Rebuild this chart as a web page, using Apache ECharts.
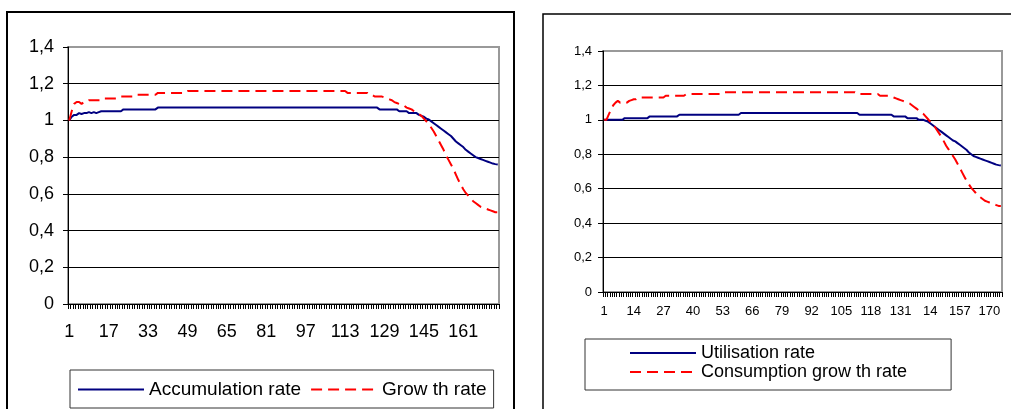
<!DOCTYPE html>
<html>
<head>
<meta charset="utf-8">
<script src="https://cdn.jsdelivr.net/npm/echarts@6/dist/echarts.min.js"></script>
<style>
html,body{margin:0;padding:0;background:#fff;}
#c{width:1011px;height:409px;}
</style>
</head>
<body>
<div id="c"></div>
<script>
// ---- data ----
var categories = [];
for (var k = 1; k <= 175; k++) categories.push(String(k));

var leftTickLabels = ['1','17','33','49','65','81','97','113','129','145','161'];
var rightTickLabels = ['1','14','27','40','53','66','79','92','105','118','131','14','157','170'];
var yTickLabels = ['0','0,2','0,4','0,6','0,8','1','1,2','1,4'];

var accumulationRate = [
1.00,1.02,1.03,1.03,1.04,1.035,1.04,1.04,1.045,1.04,1.045,1.04,1.045,
1.05,1.05,1.05,1.05,1.05,1.05,1.05,1.05,1.05,
1.06,1.06,1.06,1.06,1.06,1.06,1.06,1.06,1.06,1.06,1.06,1.06,1.06,1.06,
1.07,1.07,1.07,1.07,1.07,1.07,1.07,1.07,1.07,1.07,1.07,1.07,1.07,1.07,1.07,1.07,1.07,1.07,1.07,1.07,1.07,1.07,1.07,1.07,1.07,1.07,1.07,1.07,1.07,1.07,
1.07,1.07,1.07,1.07,1.07,1.07,1.07,1.07,1.07,1.07,1.07,1.07,1.07,1.07,1.07,1.07,1.07,1.07,1.07,1.07,1.07,1.07,1.07,1.07,1.07,1.07,1.07,1.07,1.07,1.07,
1.07,1.07,1.07,1.07,1.07,1.07,1.07,1.07,1.07,1.07,1.07,1.07,1.07,1.07,1.07,1.07,1.07,1.07,1.07,1.07,1.07,1.07,1.07,1.07,1.07,1.07,1.07,1.07,1.07,1.07,
1.06,1.06,1.06,1.06,1.06,1.06,1.06,1.06,
1.05,1.05,1.05,1.05,
1.04,1.04,1.04,1.04,
1.03,1.025,1.02,1.01,1.005,0.995,0.985,0.975,0.965,0.955,
0.945,0.935,0.925,0.915,0.90,0.885,0.875,0.865,0.855,0.84,
0.83,0.82,0.81,0.80,0.795,0.79,0.785,0.78,0.775,0.77,
0.765,0.762,0.76
];

var growthRate = [
1.00,1.05,1.09,1.10,1.10,1.09,1.10,1.10,1.11,1.11,1.11,1.11,1.11,1.11,1.12,
1.12,1.12,1.12,1.12,1.12,1.12,
1.13,1.13,1.13,1.13,1.13,1.13,
1.14,1.14,1.14,1.14,1.14,1.14,1.14,1.14,1.14,
1.15,1.15,1.15,1.15,1.15,1.15,1.15,1.15,1.15,1.15,1.15,1.15,
1.16,1.16,1.16,1.16,1.16,1.16,1.16,1.16,1.16,1.16,1.16,1.16,1.16,1.16,1.16,1.16,1.16,1.16,1.16,1.16,
1.16,1.16,1.16,1.16,1.16,1.16,1.16,1.16,1.16,1.16,1.16,1.16,1.16,1.16,1.16,1.16,1.16,1.16,1.16,1.16,
1.16,1.16,1.16,1.16,1.16,1.16,1.16,1.16,1.16,1.16,1.16,1.16,1.16,1.16,1.16,1.16,1.16,1.16,1.16,1.16,
1.16,1.16,1.16,1.16,1.16,
1.15,1.15,1.15,1.15,1.15,1.15,1.15,1.15,1.15,
1.14,1.14,
1.13,1.13,1.13,1.13,
1.125,1.12,1.115,1.11,1.10,1.095,1.09,1.085,1.08,1.07,
1.065,1.06,1.05,1.04,1.035,1.025,1.01,0.995,0.98,0.96,
0.94,0.915,0.89,0.865,0.84,0.81,0.785,0.76,0.735,0.705,
0.675,0.65,0.625,0.605,0.59,0.575,0.56,0.55,0.54,0.53,
0.525,0.52,0.515,0.51,0.505,0.50,0.50
];

var utilisationRate = [
1.00,1.00,1.00,1.00,1.00,1.00,1.00,1.00,1.00,
1.01,1.01,1.01,1.01,1.01,1.01,1.01,1.01,1.01,1.01,1.01,
1.02,1.02,1.02,1.02,1.02,1.02,1.02,1.02,1.02,1.02,1.02,1.02,1.02,
1.03,1.03,1.03,1.03,1.03,1.03,1.03,1.03,1.03,1.03,1.03,1.03,1.03,1.03,1.03,1.03,1.03,1.03,1.03,1.03,1.03,1.03,1.03,1.03,1.03,1.03,1.03,
1.04,1.04,1.04,1.04,1.04,1.04,1.04,1.04,1.04,1.04,1.04,1.04,1.04,1.04,1.04,1.04,1.04,1.04,1.04,1.04,1.04,1.04,1.04,1.04,1.04,1.04,
1.04,1.04,1.04,1.04,1.04,1.04,1.04,1.04,1.04,1.04,1.04,1.04,1.04,1.04,1.04,1.04,1.04,1.04,1.04,1.04,1.04,1.04,1.04,1.04,1.04,1.04,
1.03,1.03,1.03,1.03,1.03,1.03,1.03,1.03,1.03,1.03,1.03,1.03,1.03,1.03,1.03,
1.02,1.02,1.02,1.02,1.02,1.02,
1.01,1.01,1.01,1.01,1.01,
1.00,1.00,1.00,
0.995,0.99,0.98,0.97,0.96,0.95,0.94,0.93,0.92,0.91,
0.90,0.89,0.88,0.875,0.865,0.855,0.845,0.835,0.825,0.81,
0.80,0.79,0.785,0.78,0.775,0.77,0.765,0.76,0.755,0.75,
0.745,0.74,0.737,0.735
];

var consumptionGrowthRate = [
1.00,1.00,1.03,1.06,1.085,1.10,1.11,1.10,1.10,1.105,1.10,1.11,1.115,1.12,1.12,
1.13,1.13,1.13,1.13,1.13,1.13,1.13,1.13,1.13,1.13,1.13,1.13,
1.14,1.14,1.14,1.14,1.14,1.14,1.14,1.14,1.14,
1.15,1.15,1.15,1.15,1.15,1.15,1.15,1.15,1.15,1.15,1.15,1.15,1.15,1.15,1.15,1.15,
1.16,1.16,1.16,1.16,1.16,1.16,1.16,1.16,1.16,1.16,1.16,1.16,1.16,1.16,1.16,1.16,1.16,1.16,1.16,1.16,
1.16,1.16,1.16,1.16,1.16,1.16,1.16,1.16,1.16,1.16,1.16,1.16,1.16,1.16,1.16,1.16,1.16,1.16,1.16,1.16,
1.16,1.16,1.16,1.16,1.16,1.16,1.16,1.16,1.16,1.16,1.16,1.16,1.16,1.16,1.16,1.16,1.16,1.16,1.16,
1.15,1.15,1.15,1.15,1.15,1.15,1.15,1.15,1.15,1.15,
1.14,1.14,1.14,1.14,1.14,
1.135,1.13,1.125,1.12,1.115,1.11,1.105,1.10,1.095,1.085,
1.075,1.065,1.055,1.045,1.035,1.02,1.005,0.99,0.975,0.96,
0.94,0.92,0.90,0.875,0.85,0.83,0.81,0.79,0.77,0.745,
0.72,0.695,0.67,0.645,0.625,0.605,0.59,0.575,0.56,0.55,
0.54,0.53,0.525,0.52,0.515,0.51,0.505,0.50,0.50
];

// ---- chart ----
var FONT = '"Liberation Sans", Arial, sans-serif';
var chart = echarts.init(document.getElementById('c'), null, {renderer: 'canvas'});

function yAxis(gridIndex, fontSize, margin) {
  return {
    type: 'value', gridIndex: gridIndex, min: 0, max: 1.4, interval: 0.2,
    axisLine: {show: true, lineStyle: {color: '#000', width: 1}},
    axisTick: {show: true, length: 5, lineStyle: {color: '#000'}},
    axisLabel: {
      color: '#000', fontFamily: FONT, fontSize: fontSize, margin: margin,
      formatter: function (v) { return yTickLabels[Math.round(v / 0.2)]; }
    },
    splitLine: {show: true, lineStyle: {color: ['#000','#000','#000','#000','#000','#000','#000','#999'], width: 1}}
  };
}

function xAxis(gridIndex, fontSize, margin, step, labels) {
  return {
    type: 'category', gridIndex: gridIndex, data: categories, boundaryGap: true,
    axisLine: {show: true, lineStyle: {color: '#000', width: 1}},
    axisTick: {show: true, interval: 0, length: 5, lineStyle: {color: '#000'}},
    axisLabel: {
      color: '#000', fontFamily: FONT, fontSize: fontSize, margin: margin,
      interval: function (idx) { return idx % step === 0; },
      formatter: function (v, idx) { return labels[Math.round(idx / step)]; }
    },
    splitLine: {show: false}
  };
}

var DASH = [11, 6];
var NO_SYMBOL = {color: 'rgba(0,0,0,0)', borderWidth: 0, opacity: 0};

chart.setOption({
  animation: false,
  backgroundColor: '#fff',
  textStyle: {fontFamily: FONT},
  grid: [
    {left: 68, top: 47, width: 431, height: 257, show: true, borderColor: '#999', borderWidth: 2, backgroundColor: '#fff'},
    {left: 603, top: 51, width: 399, height: 241, show: true, borderColor: '#999', borderWidth: 2, backgroundColor: '#fff'}
  ],
  xAxis: [
    xAxis(0, 18, 19, 16, leftTickLabels),
    xAxis(1, 13, 13, 13, rightTickLabels)
  ],
  yAxis: [
    yAxis(0, 18, 14),
    yAxis(1, 13, 11)
  ],
  legend: [
    {
      left: 70, top: 370, orient: 'horizontal',
      data: ['Accumulation rate', 'Grow th rate'],
      padding: [10, 7, 9, 7], itemGap: 9, itemWidth: 66, itemHeight: 14,
      itemStyle: NO_SYMBOL,
      borderColor: '#333', borderWidth: 1, backgroundColor: '#fff',
      textStyle: {color: '#000', fontFamily: FONT, fontSize: 19}
    },
    {
      left: 585, top: 339, orient: 'vertical',
      data: ['Utilisation rate', 'Consumption grow th rate'],
      padding: [5, 44, 9, 44], itemGap: 1, itemWidth: 66, itemHeight: 14,
      itemStyle: NO_SYMBOL,
      borderColor: '#333', borderWidth: 1, backgroundColor: '#fff',
      textStyle: {color: '#000', fontFamily: FONT, fontSize: 18, lineHeight: 18}
    }
  ],
  graphic: [
    {type: 'rect', shape: {x: 7, y: 12, width: 507, height: 430}, style: {fill: 'none', stroke: '#000', lineWidth: 2}, silent: true, z: -10},
    {type: 'rect', shape: {x: 543, y: 14, width: 520, height: 430}, style: {fill: 'none', stroke: '#000', lineWidth: 1.5}, silent: true, z: -10}
  ],
  series: [
    {name: 'Accumulation rate', type: 'line', xAxisIndex: 0, yAxisIndex: 0, data: accumulationRate,
      symbol: 'none', itemStyle: {color: '#000080'}, lineStyle: {color: '#000080', width: 2}},
    {name: 'Grow th rate', type: 'line', xAxisIndex: 0, yAxisIndex: 0, data: growthRate,
      symbol: 'none', itemStyle: {color: '#ff0000'}, lineStyle: {color: '#ff0000', width: 2, type: DASH}},
    {name: 'Utilisation rate', type: 'line', xAxisIndex: 1, yAxisIndex: 1, data: utilisationRate,
      symbol: 'none', itemStyle: {color: '#000080'}, lineStyle: {color: '#000080', width: 2}},
    {name: 'Consumption grow th rate', type: 'line', xAxisIndex: 1, yAxisIndex: 1, data: consumptionGrowthRate,
      symbol: 'none', itemStyle: {color: '#ff0000'}, lineStyle: {color: '#ff0000', width: 2, type: DASH}}
  ]
});
</script>
</body>
</html>
